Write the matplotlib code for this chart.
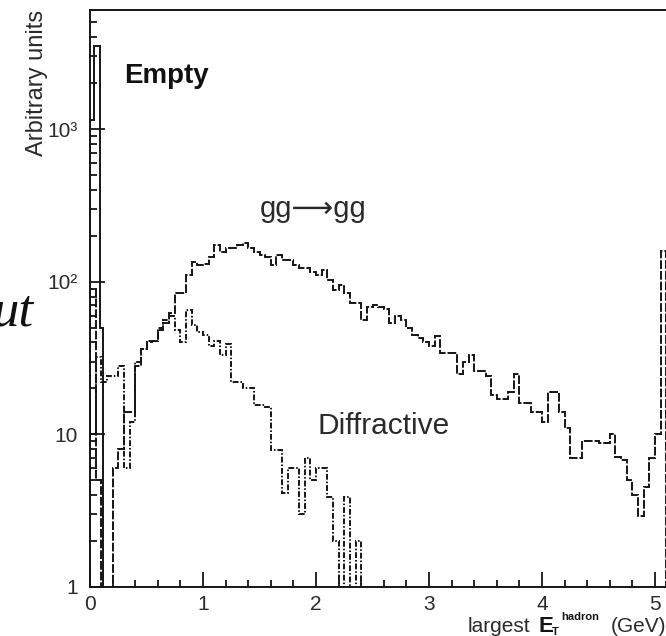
import numpy as np
import matplotlib
matplotlib.use('Agg')
import matplotlib.pyplot as plt
from matplotlib.ticker import FixedLocator, FixedFormatter, LogLocator, NullFormatter, MultipleLocator

plt.rcParams['font.family'] = ['Liberation Sans', 'DejaVu Sans']

# ---------------------------------------------------------------------------
# Data, 0.05 GeV bins from 0 to 5.10
# ---------------------------------------------------------------------------
BIN_WIDTH = 0.05
bin_edges = np.round(np.arange(0, 102 + 1) * BIN_WIDTH, 3)

gg_counts = [
    90, 5, 0, 0, 6, 8, 14, 14, 28, 36,
    41, 41, 48, 54, 62, 84, 84, 110, 134, 128,
    130, 145, 174, 156, 166, 166, 174, 180, 166, 156,
    150, 145, 128, 150, 139, 139, 128, 123, 123, 115,
    110, 119, 102, 88, 95, 84, 73, 73, 56, 68,
    70, 68, 66, 54, 60, 56, 50, 45, 43, 40,
    38, 44, 34, 34, 34, 25, 30, 33, 26, 26,
    24, 18, 17, 17, 19, 25, 16, 16, 14, 14,
    12, 19, 19, 14, 11, 7, 7, 9, 9, 9,
    8.8, 8.8, 10, 7.1, 6.8, 5, 4, 2.9, 4.5, 7,
    10, 160,
]

diffractive_counts = [
    10, 32, 22, 24, 24, 28, 6, 12, 30, 36,
    40, 41, 50, 56, 60, 48, 40, 65, 52, 47,
    45, 38, 41, 33, 39, 22, 22, 20, 20, 15.5,
    15.5, 15, 7.9, 7.9, 4.1, 6, 6, 3, 7, 5,
    6, 6, 3.9, 2, 0, 3.9, 0, 2,
] + [0] * 54

empty_edges = [0.0, 0.035, 0.09, 0.115]
empty_counts = [1150, 3500, 50]

x_ticks = [0, 1, 2, 3, 4, 5]
x_tick_labels = ['0', '1', '2', '3', '4', '5']
y_ticks = [1, 10, 100, 1000]
y_tick_labels = ['1', '10', '10\u00b2', '10\u00b3']

FLOOR = 1e-3
INK = '#151515'
TEXT = '#2a2a2a'
W, H = 666, 636


def px(x, y):
    """pixel position (from top-left) -> figure fraction"""
    return x / W, 1 - y / H


# ---------------------------------------------------------------------------
# Figure
# ---------------------------------------------------------------------------
fig = plt.figure(figsize=(W / 100, H / 100), dpi=100)
ax = fig.add_axes([90 / W, 49 / H, 582 / W, 577 / H])
ax.set_yscale('log')

ax.stairs(np.maximum(np.array(empty_counts, float), FLOOR), empty_edges,
          baseline=FLOOR, color=INK, lw=1.4)
ax.stairs(np.maximum(np.array(gg_counts, float), FLOOR), bin_edges,
          baseline=FLOOR, color=INK, lw=1.4, linestyle=(0, (4.5, 1)))
ax.stairs(np.maximum(np.array(diffractive_counts, float), FLOOR), bin_edges,
          baseline=FLOOR, color=INK, lw=1.4, linestyle=(0, (3, 1, 0.8, 1)))

ax.set_xlim(0, 5.15)
ax.set_ylim(1, 10 ** 3.78)

ax.xaxis.set_major_locator(FixedLocator(x_ticks))
ax.xaxis.set_major_formatter(FixedFormatter(x_tick_labels))
ax.xaxis.set_minor_locator(MultipleLocator(0.2))
ax.yaxis.set_major_locator(FixedLocator(y_ticks))
ax.yaxis.set_major_formatter(FixedFormatter(y_tick_labels))
ax.yaxis.set_minor_locator(LogLocator(base=10, subs=np.arange(2, 10)))
ax.yaxis.set_minor_formatter(NullFormatter())

ax.tick_params(which='both', direction='in', width=1.3, colors=INK,
               top=False, right=False)
ax.tick_params(which='major', length=11)
ax.tick_params(which='minor', length=5)
ax.tick_params(axis='x', which='major', labelsize=15, pad=6, labelcolor=TEXT)
ax.tick_params(axis='y', which='major', labelsize=15, pad=9, labelcolor=TEXT)

for side in ['left', 'bottom', 'top', 'right']:
    ax.spines[side].set_linewidth(1.4)
    ax.spines[side].set_color(INK)

ax.set_ylabel('Arbitrary units', fontsize=17, color=TEXT, loc='top')
ax.yaxis.set_label_coords(-0.072, 1.0)

# in-plot annotations
ax.text(0.30, 2000, 'Empty', fontsize=20, fontweight='bold', color='#111111')
ax.text(1.50, 265, 'gg\u27f6gg', fontsize=21, color=TEXT)
ax.text(2.01, 10.0, 'Diffractive', fontsize=21.5, color=TEXT)

# x-axis title, set piece by piece to keep the tiny superscript
fig.text(*px(468, 632), 'largest', fontsize=15, color=TEXT, va='baseline')
fig.text(*px(538, 632), 'E', fontsize=16, fontweight='bold', color=INK, va='baseline')
fig.text(*px(552, 635), 'T', fontsize=8, fontweight='bold', color=INK, va='baseline')
fig.text(*px(561, 620), 'hadron', fontsize=8, fontweight='bold', color=INK, va='baseline')
fig.text(*px(611, 632), '(GeV)', fontsize=15, color=TEXT, va='baseline')

# fragment of neighbouring text cut by the scan
fig.text(*px(33, 326), 'ut', fontsize=38, style='italic',
         family='Liberation Serif', color='#111111', ha='right', va='baseline')

fig.savefig('out.png', dpi=100)
plt.close(fig)
